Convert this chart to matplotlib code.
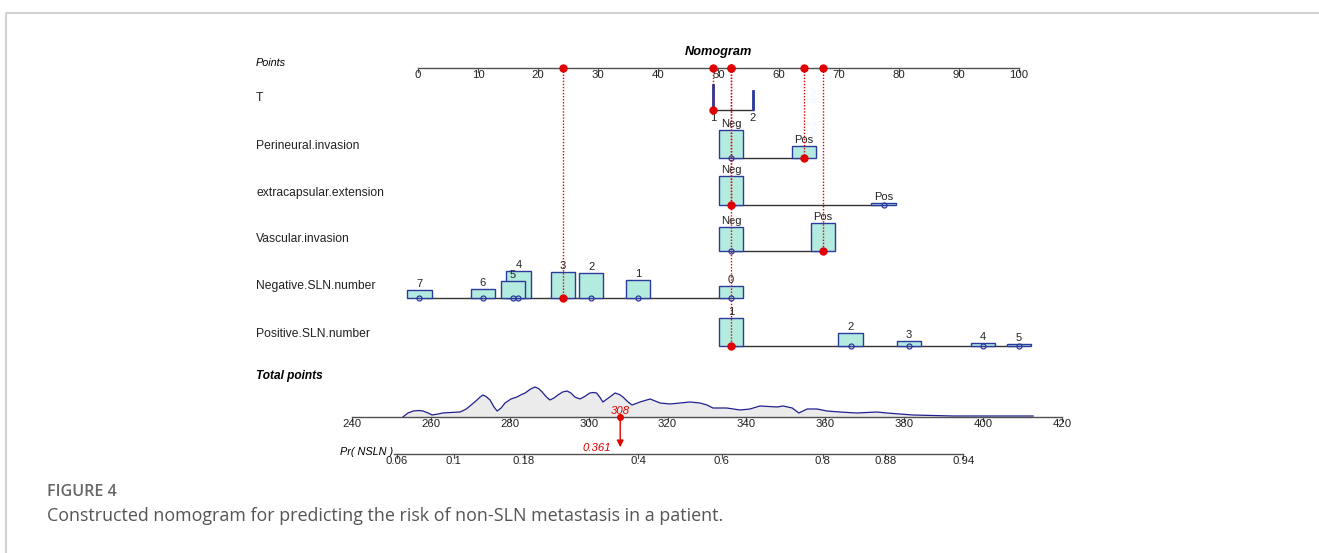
import numpy as np
import matplotlib.pyplot as plt
from matplotlib.patches import Rectangle

plt.rcParams['font.family'] = ['Liberation Sans', 'DejaVu Sans']

###############################################################
# Nomogram data (points per level, bar heights = level frequency)
#
row_names = ["T", "Perineural.invasion", "extracapsular.extension",
             "Vascular.invasion", "Negative.SLN.number", "Positive.SLN.number"]

t_levels = ["1", "2"]
t_points = [49.1, 55.7]
t_freq = [26, 20]

peri_levels = ["Neg", "Pos"]
peri_points = [52.1, 64.2]
peri_freq = [28, 12]

extra_levels = ["Neg", "Pos"]
extra_points = [52.1, 77.5]
extra_freq = [29, 2]

vasc_levels = ["Neg", "Pos"]
vasc_points = [52.1, 67.4]
vasc_freq = [24, 28]

neg_sln_levels = ["0", "1", "2", "3", "4", "5", "6", "7"]
neg_sln_points = [52.1, 36.6, 28.8, 24.1, 16.7, 15.8, 10.8, 0.2]
neg_sln_freq = [12, 18, 25, 26, 27, 17, 9, 8]

pos_sln_levels = ["1", "2", "3", "4", "5"]
pos_sln_points = [52.1, 72.0, 81.7, 94.0, 100.0]
pos_sln_freq = [28, 13, 5, 3, 2]

# patient selected level index per row
patient_idx = [0, 1, 0, 1, 3, 0]
patient_total = 308
patient_prob = 0.361

points_ticks = list(range(0, 101, 10))
total_ticks = list(range(240, 421, 20))
prob_ticks = [0.06, 0.1, 0.18, 0.4, 0.6, 0.8, 0.88, 0.94]

# density of total points in the cohort
dens_total = [252.9, 254.2, 255.5, 257, 258, 259.3, 260.3, 261.8, 263, 265, 267.4,
              269, 270.5, 271.7, 272.5, 273.2, 274, 275, 276, 276.8, 277.8,
              278.8, 280.3, 281.8, 283, 283.9, 285.3, 286.4, 287.3, 288.2, 289.3,
              290.2, 291.2, 292.2, 293.4, 294.5, 295.5, 296.5, 297.8, 299, 300.3,
              301.2, 302, 302.8, 303.6, 305, 306.7, 307.8, 308.7, 310, 311, 312,
              313, 315.6, 318.1, 320.6, 323.2, 325.7, 328.2, 330, 331.5, 335,
              338.4, 340.9, 343.4, 347.8, 349.3, 351.6, 353.3, 355.4, 357.9,
              360.4, 363.7, 368, 373.1, 375.6, 378.9, 382.2, 392.4, 412.7]
dens_height = [0, 4, 6, 6.5, 6, 4, 2, 3, 4, 4.5, 5,
               8, 13, 17, 20, 22, 20.5, 17, 10, 6, 9,
               14, 18, 20, 22.5, 24, 28, 30, 28.5, 25, 20,
               17, 19, 22, 25, 26, 24, 20, 18, 20.5, 24,
               24.5, 24, 20, 15, 19, 24, 22.5, 20, 15, 12, 13.5,
               15, 18, 14, 13, 14, 15, 14, 12, 9, 9,
               7, 8, 11, 10, 11, 9, 4, 8, 8,
               6, 5, 4, 5, 4, 3, 2, 1, 1]

###############################################################
# Scales: total points and probability -> points axis units
#
def total_to_pts(t):
    return -10.98 + (np.asarray(t) - 240) * 0.6563

def prob_to_pts(p):
    p = np.asarray(p)
    return 43.59 + 17.14 * np.log(p / (1 - p))

FILL = "#b3ebde"
EDGE = "#2b3a9c"
NAVY = "#1f1f8f"
RED = "#e00000"
AXC = "#505050"
BAR_W = 4.1

fig = plt.figure(figsize=(13.19, 5.53), dpi=100)
ax = fig.add_axes([0, 0, 1, 1])
ax.set_xlim(-69.55, 149.92)
ax.set_ylim(553, 0)
ax.axis("off")

# outer frame of the figure panel
ax.plot([-68.6, -68.6, 149.92], [553, 12.5, 12.5], color="#d2d2d2", lw=1.5, solid_capstyle="butt")

LABEL_X = -26.95
row_y = [110, 158, 205, 251, 298, 346]
AXIS_Y = 68
TOTAL_Y = 417
PROB_Y = 454

# Points axis
ax.text(LABEL_X, 63, "Points", fontsize=7.8, style="italic", va="center")
ax.text(50, 52, "Nomogram", fontsize=9.2, style="italic", weight="bold", ha="center", va="center")
ax.plot([0, 100], [AXIS_Y, AXIS_Y], color=AXC, lw=1)
for tk in points_ticks:
    ax.plot([tk, tk], [AXIS_Y, AXIS_Y + 4], color=AXC, lw=0.8)
    ax.text(tk, AXIS_Y + 2.5, str(tk), fontsize=8.2, ha="center", va="top", color="#222")

# Rows
rows = [
    (t_levels, t_points, t_freq),
    (peri_levels, peri_points, peri_freq),
    (extra_levels, extra_points, extra_freq),
    (vasc_levels, vasc_points, vasc_freq),
    (neg_sln_levels, neg_sln_points, neg_sln_freq),
    (pos_sln_levels, pos_sln_points, pos_sln_freq),
]

for r, (name, (levels, pts, freq)) in enumerate(zip(row_names, rows)):
    y = row_y[r]
    ax.text(LABEL_X, y - 12, name, fontsize=8.7, va="center", color="#222")
    if r == 0:
        # T: thin bars, labels below line
        ax.plot([min(pts), max(pts)], [y, y], color="#333", lw=1, zorder=2)
        for lv, p, f in zip(levels, pts, freq):
            ax.add_patch(Rectangle((p - 0.15, y), 0.3, -f, facecolor=EDGE, edgecolor=EDGE, lw=0.6, zorder=3))
            ax.text(p, y + 3, lv, fontsize=8, ha="center", va="top", color="#222")
    else:
        ax.plot([min(pts), max(pts)], [y, y], color="#333", lw=1, zorder=1)
        for lv, p, f in zip(levels, pts, freq):
            ax.add_patch(Rectangle((p - BAR_W / 2, y), BAR_W, -f, facecolor=FILL,
                                   edgecolor=EDGE, lw=1, zorder=2))
            ax.text(p, y - f - 1, lv, fontsize=8, ha="center", va="bottom", color="#222", zorder=4)
        for i, p in enumerate(pts):
            if i != patient_idx[r]:
                ax.plot(p, y, "o", ms=3.6, mfc="none", mec=EDGE, mew=0.9, zorder=5)
    # patient's selection
    sel = pts[patient_idx[r]]
    ax.plot([sel, sel], [AXIS_Y, y], color=RED, lw=1, ls=(0, (1, 1.2)), zorder=6)
    ax.plot(sel, y, "o", ms=5, color=RED, zorder=7)
    ax.plot(sel, AXIS_Y, "o", ms=5, color=RED, zorder=7)

# Total points axis with density
ax.text(LABEL_X, 376, "Total points", fontsize=8.6, style="italic", weight="bold", va="center")
dx = total_to_pts(dens_total)
dy = TOTAL_Y - np.array(dens_height)
ax.fill_between(dx, dy, TOTAL_Y, color="#ebebeb", lw=0, zorder=1)
ax.plot(dx, dy, color=NAVY, lw=0.9, zorder=2)
ax.plot(total_to_pts([total_ticks[0], total_ticks[-1]]), [TOTAL_Y, TOTAL_Y], color=AXC, lw=1, zorder=3)
for tk in total_ticks:
    x = total_to_pts(tk)
    ax.plot([x, x], [TOTAL_Y, TOTAL_Y + 4], color=AXC, lw=0.8)
    ax.text(x, TOTAL_Y + 2, str(tk), fontsize=8.2, ha="center", va="top", color="#222")

# Probability axis
ax.text(prob_to_pts(0.06) - 0.5, PROB_Y - 2, "Pr( NSLN )", fontsize=7.8, style="italic",
        ha="right", va="center")
ax.plot([prob_to_pts(0.06) - 0.4, prob_to_pts(0.94)], [PROB_Y, PROB_Y], color=AXC, lw=1)
for tk in prob_ticks:
    x = prob_to_pts(tk)
    ax.plot([x, x], [PROB_Y, PROB_Y + 4], color=AXC, lw=0.8)
    ax.text(x, PROB_Y + 2, f"{tk:g}", fontsize=8.2, ha="center", va="top", color="#222")

# Patient's total and probability
xt = total_to_pts(patient_total)
ax.plot(xt, TOTAL_Y, "o", ms=4, color=RED, zorder=8)
ax.annotate("", xy=(xt, PROB_Y - 4), xytext=(xt, TOTAL_Y),
            arrowprops=dict(arrowstyle="-|>", color=RED, lw=1, mutation_scale=10), zorder=8)
ax.text(xt, TOTAL_Y - 6, str(patient_total), fontsize=8.2, style="italic", color=RED,
        ha="center", va="center", zorder=8)
ax.text(xt - 1.5, PROB_Y - 6, f"{patient_prob:.3f}", fontsize=8.2, style="italic", color=RED,
        ha="right", va="center", zorder=8)

# Caption
fig.text(47 / 1319, 1 - 492 / 553, "FIGURE 4", fontsize=11.6, color="#666666",
         family=["Open Sans", "DejaVu Sans"], weight="semibold", va="center")
fig.text(47 / 1319, 1 - 516 / 553,
         "Constructed nomogram for predicting the risk of non-SLN metastasis in a patient.",
         fontsize=12.9, color="#555555", family=["Open Sans", "DejaVu Sans"], va="center")

plt.savefig("out.png", dpi=100)
